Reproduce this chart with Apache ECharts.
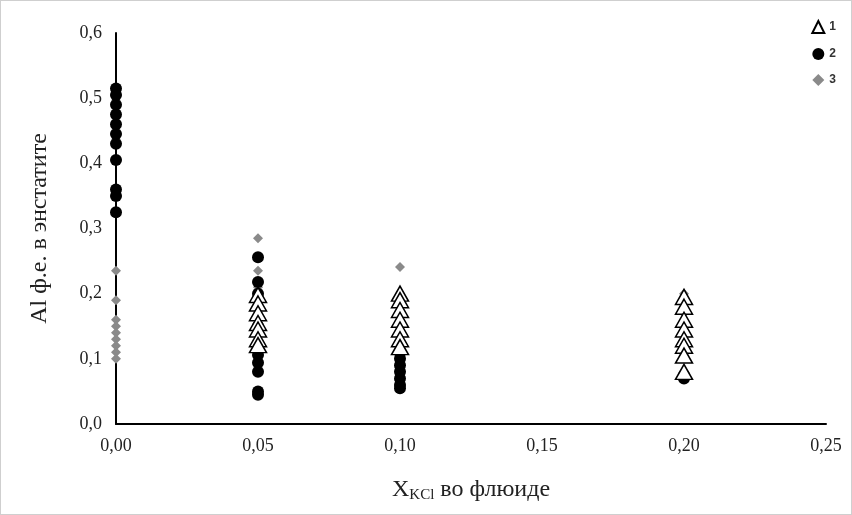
<!DOCTYPE html>
<html>
<head>
<meta charset="utf-8">
<script src="https://cdn.jsdelivr.net/npm/echarts@6/dist/echarts.min.js"></script>
<style>
html,body{margin:0;padding:0;background:#fff;}
#main{width:852px;height:515px;box-sizing:border-box;border:1px solid #cfcfcf;}
</style>
</head>
<body>
<div id="main"></div>
<script>
// series 1 - triangles
var s1x=[0.05,0.05,0.05,0.05,0.05,0.05,0.05, 0.10,0.10,0.10,0.10,0.10,0.10,0.10, 0.20,0.20,0.20,0.20,0.20,0.20,0.20,0.20];
var s1y=[0.198,0.185,0.17,0.155,0.145,0.13,0.121, 0.200,0.19,0.175,0.16,0.145,0.13,0.118, 0.195,0.18,0.16,0.145,0.13,0.12,0.105,0.08];
// series 2 - black circles
var s2x=[0,0,0,0,0,0,0,0,0,0,0, 0.05,0.05,0.05,0.05,0.05,0.05,0.05,0.05,0.05,0.05, 0.10,0.10,0.10,0.10,0.10,0.10,0.10, 0.20,0.20];
var s2y=[0.515,0.505,0.49,0.475,0.46,0.445,0.43,0.405,0.36,0.35,0.325, 0.256,0.218,0.2,0.15,0.12,0.106,0.094,0.08,0.05,0.045, 0.109,0.1,0.09,0.08,0.07,0.06,0.055, 0.075,0.07];
// series 3 - grey diamonds
var s3x=[0,0,0,0,0,0,0,0,0, 0.05,0.05,0.05,0.05,0.05, 0.10,0.10,0.10, 0.20,0.20,0.20];
var s3y=[0.235,0.19,0.16,0.15,0.14,0.13,0.12,0.11,0.10, 0.285,0.235,0.21,0.18,0.17, 0.241,0.106,0.16, 0.2,0.17,0.15];

function pairs(xs,ys){var r=[];for(var i=0;i<xs.length;i++)r.push([xs[i],ys[i]]);return r;}

var chart=echarts.init(document.getElementById('main'));
chart.setOption({
  animation:false,
  textStyle:{fontFamily:'Liberation Serif'},
  grid:{left:115,right:25,top:32,bottom:90},
  legend:{
    orient:'vertical',right:10,top:14,itemGap:14,itemWidth:12,itemHeight:12,
    textStyle:{fontFamily:'Liberation Sans',fontSize:12,fontWeight:'bold',color:'#333'},
    data:['1','2','3']
  },
  xAxis:{
    type:'value',min:0,max:0.25,interval:0.05,
    axisLine:{lineStyle:{color:'#000',width:2}},
    axisTick:{show:false},splitLine:{show:false},
    axisLabel:{color:'#222',fontSize:18,margin:13,formatter:function(v){return v.toFixed(2).replace('.',',');}},
    name:'{a|X}{b|KCl}{a| во флюиде}',nameLocation:'middle',nameGap:52,
    nameTextStyle:{rich:{a:{fontSize:24,color:'#222',fontFamily:'Liberation Serif'},b:{fontSize:15,color:'#222',fontFamily:'Liberation Serif',padding:[12,0,0,0]}}}
  },
  yAxis:{
    type:'value',min:0,max:0.6,interval:0.1,
    axisLine:{show:true,lineStyle:{color:'#000',width:2}},
    axisTick:{show:false},splitLine:{show:false},
    axisLabel:{color:'#222',fontSize:18,margin:14,formatter:function(v){return v.toFixed(1).replace('.',',');}},
    name:'Al ф.е. в энстатите',nameLocation:'middle',nameGap:64,
    nameTextStyle:{fontSize:24,color:'#222',fontFamily:'Liberation Serif'}
  },
  series:[
    {name:'3',type:'scatter',z:1,symbol:'diamond',symbolSize:10,itemStyle:{color:'#8a8a8a',opacity:1},data:pairs(s3x,s3y)},
    {name:'2',type:'scatter',z:2,symbol:'circle',symbolSize:12,itemStyle:{color:'#000',opacity:1},data:pairs(s2x,s2y)},
    {name:'1',type:'scatter',z:3,symbol:'triangle',symbolSize:[17,15],itemStyle:{color:'#fff',borderColor:'#000',borderWidth:1.5,opacity:1},data:pairs(s1x,s1y)}
  ]
});
</script>
</body>
</html>
